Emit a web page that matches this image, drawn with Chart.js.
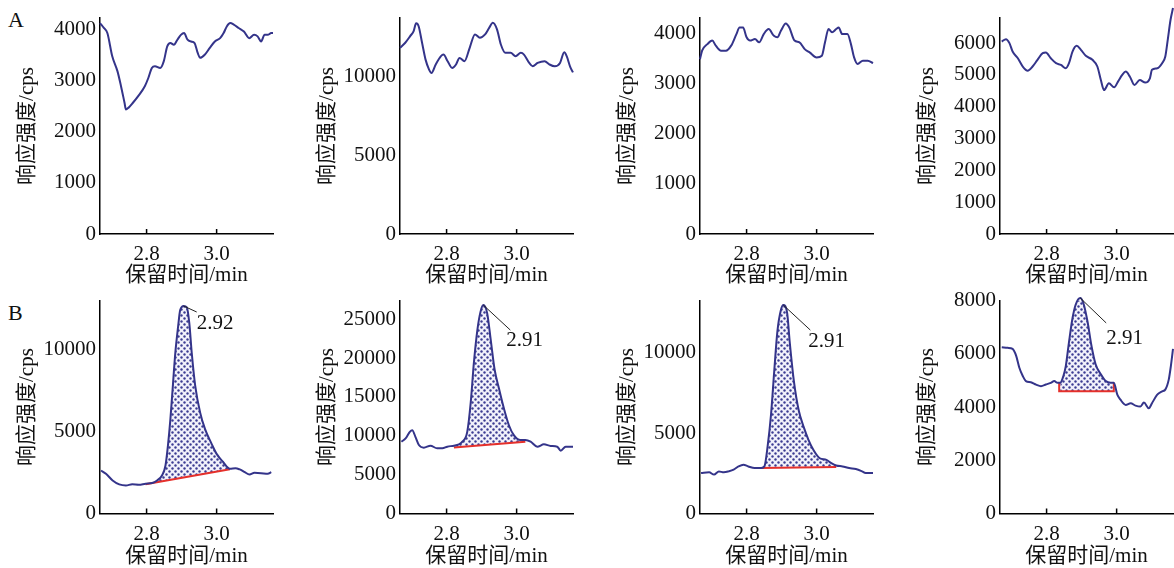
<!DOCTYPE html>
<html>
<head>
<meta charset="utf-8">
<title>色谱图</title>
<script src="https://cdn.jsdelivr.net/npm/chart.js@4.4.1/dist/chart.umd.min.js"></script>
<style>
  body { margin: 0; width: 1174px; height: 568px; overflow: hidden; background: #fff; position: relative; }
  canvas { position: absolute; }
  .tag { position: absolute; font: 22px "Liberation Serif", serif; color: #111; line-height: 1; }
</style>
</head>
<body>
<div class="tag" style="left:8px;top:9px">A</div>
<div class="tag" style="left:8px;top:302px">B</div>
<canvas id="a1" width="300" height="284" style="left:0;top:0"></canvas>
<canvas id="a2" width="300" height="284" style="left:300px;top:0"></canvas>
<canvas id="a3" width="300" height="284" style="left:600px;top:0"></canvas>
<canvas id="a4" width="300" height="284" style="left:900px;top:0"></canvas>
<canvas id="b1" width="300" height="284" style="left:0;top:284px"></canvas>
<canvas id="b2" width="300" height="284" style="left:300px;top:284px"></canvas>
<canvas id="b3" width="300" height="284" style="left:600px;top:284px"></canvas>
<canvas id="b4" width="300" height="284" style="left:900px;top:284px"></canvas>
<script>
// x axis (retention time, min)
const xTicks = [2.8, 3.0];
const xMin = 2.667, xMax = 3.161;

// row A: blank samples, [time, cps]
const a1 = [[2.667,4130],[2.678,4035],[2.688,3935],[2.702,3480],[2.717,3185],[2.727,2895],[2.737,2570],[2.741,2440],[2.748,2470],[2.761,2570],[2.776,2700],[2.795,2895],[2.805,3055],[2.815,3250],[2.824,3285],[2.839,3250],[2.849,3380],[2.859,3675],[2.868,3740],[2.878,3705],[2.888,3805],[2.898,3900],[2.907,3935],[2.917,3805],[2.927,3770],[2.937,3740],[2.946,3545],[2.953,3450],[2.966,3510],[2.980,3640],[2.995,3770],[3.010,3835],[3.020,3935],[3.029,4065],[3.039,4130],[3.049,4100],[3.063,4035],[3.078,3965],[3.093,3835],[3.107,3900],[3.117,3870],[3.127,3770],[3.137,3900],[3.146,3900],[3.156,3935],[3.161,3935]];
const a2 = [[2.667,11810],[2.682,12130],[2.696,12550],[2.706,12870],[2.713,13360],[2.720,13190],[2.730,12130],[2.740,11060],[2.750,10430],[2.757,10210],[2.769,10750],[2.784,11280],[2.791,11380],[2.803,10960],[2.816,10530],[2.827,10750],[2.837,11170],[2.851,10960],[2.866,11810],[2.881,12660],[2.895,12450],[2.910,12660],[2.922,13090],[2.932,13400],[2.944,12980],[2.955,12020],[2.968,11490],[2.983,11490],[2.997,11280],[3.012,11490],[3.021,11380],[3.036,10850],[3.046,10640],[3.060,10850],[3.080,10960],[3.094,10750],[3.109,10640],[3.124,10850],[3.136,11530],[3.143,11280],[3.153,10600],[3.161,10250]];
const a3 = [[2.667,3480],[2.673,3650],[2.688,3780],[2.702,3850],[2.712,3750],[2.727,3650],[2.741,3650],[2.756,3750],[2.771,3980],[2.780,4110],[2.790,4110],[2.800,3915],[2.810,3850],[2.824,3880],[2.836,3815],[2.849,3980],[2.863,4080],[2.878,3945],[2.888,3915],[2.898,4045],[2.912,4190],[2.922,4110],[2.937,3850],[2.951,3815],[2.966,3680],[2.980,3615],[3.000,3515],[3.015,3550],[3.024,3815],[3.034,4080],[3.044,4015],[3.056,4080],[3.063,4110],[3.073,3980],[3.088,3980],[3.098,3780],[3.107,3515],[3.117,3385],[3.132,3450],[3.146,3450],[3.161,3400]];
const a4 = [[2.672,6050],[2.684,6125],[2.694,6000],[2.703,5735],[2.718,5525],[2.732,5265],[2.746,5135],[2.760,5265],[2.774,5475],[2.789,5685],[2.798,5705],[2.812,5525],[2.827,5370],[2.841,5315],[2.855,5210],[2.864,5370],[2.874,5735],[2.886,5915],[2.898,5790],[2.912,5600],[2.931,5475],[2.945,5265],[2.955,4840],[2.964,4525],[2.978,4735],[2.993,4610],[3.004,4790],[3.016,5000],[3.026,5105],[3.038,4945],[3.051,4685],[3.066,4840],[3.082,4760],[3.095,4895],[3.101,5160],[3.116,5210],[3.130,5370],[3.139,5580],[3.146,6105],[3.154,6735],[3.161,7105]];

// row B: spiked samples
const b1 = [[2.670,2625],[2.684,2425],[2.703,2020],[2.722,1780],[2.741,1715],[2.759,1780],[2.778,1760],[2.797,1820],[2.816,1860],[2.830,2020],[2.844,2325],[2.854,2930],[2.861,4140],[2.868,5760],[2.875,7780],[2.882,9800],[2.890,11410],[2.896,12420],[2.906,12670],[2.915,12590],[2.922,11620],[2.929,9800],[2.939,7780],[2.953,6160],[2.967,5150],[2.986,4240],[3.000,3640],[3.019,3130],[3.038,2730],[3.054,2770],[3.066,2690],[3.080,2525],[3.094,2385],[3.108,2485],[3.127,2465],[3.146,2425],[3.156,2525]];
const b2 = [[2.671,9240],[2.683,9660],[2.695,10510],[2.702,10720],[2.711,9870],[2.721,8810],[2.735,8475],[2.754,8730],[2.773,8390],[2.788,8390],[2.802,8600],[2.821,8730],[2.835,8900],[2.845,9240],[2.859,10510],[2.869,14320],[2.878,19410],[2.888,23640],[2.897,25980],[2.905,26820],[2.916,25760],[2.926,22370],[2.937,18560],[2.950,16020],[2.964,13480],[2.978,11360],[2.992,10090],[3.011,9450],[3.025,9450],[3.040,9240],[3.059,8600],[3.078,8900],[3.097,8690],[3.116,8600],[3.126,8090],[3.140,8600],[3.161,8600]];
const b3 = [[2.670,2520],[2.693,2560],[2.707,2420],[2.721,2620],[2.735,2560],[2.749,2620],[2.763,2725],[2.777,2930],[2.791,3035],[2.805,2930],[2.823,2830],[2.842,2830],[2.851,2930],[2.860,4160],[2.870,6210],[2.879,8870],[2.888,11330],[2.898,12660],[2.905,12970],[2.916,12460],[2.923,10720],[2.935,8260],[2.949,6410],[2.963,5390],[2.977,4570],[2.991,3955],[3.009,3440],[3.028,3340],[3.042,3135],[3.056,2990],[3.074,2930],[3.093,2830],[3.112,2765],[3.130,2620],[3.140,2520],[3.161,2520]];
const b4 = [[2.672,6250],[2.689,6225],[2.703,6185],[2.713,5930],[2.722,5485],[2.732,5165],[2.741,4975],[2.755,4935],[2.770,4845],[2.784,4785],[2.798,4845],[2.812,4910],[2.822,4975],[2.831,4910],[2.839,4910],[2.848,5165],[2.855,5550],[2.864,6440],[2.874,7335],[2.883,7845],[2.896,8100],[2.905,7910],[2.917,7205],[2.928,6315],[2.940,5610],[2.955,5230],[2.969,4975],[2.983,4910],[2.992,4910],[3.002,4465],[3.011,4275],[3.026,4080],[3.040,4145],[3.054,4055],[3.068,4020],[3.078,4170],[3.092,3955],[3.101,4145],[3.116,4465],[3.130,4590],[3.139,4655],[3.149,5040],[3.155,5550],[3.161,6185]];

// integration baselines (red)
const baseB1 = [[2.797,1780],[3.038,2700]];
const baseB2 = [[2.821,8500],[3.025,9240]];
const baseB3 = [[2.842,2830],[3.056,2890]];
const baseB4 = [[2.836,4910],[2.836,4590],[2.992,4590],[2.992,4910]];
const peakLabels = ['2.92', '2.91', '2.91', '2.91'];

// y ticks and axis tops
const yTicksA1 = [0, 1000, 2000, 3000, 4000];
const yTicksA2 = [0, 5000, 10000];
const yTicksA3 = [0, 1000, 2000, 3000, 4000];
const yTicksA4 = [0, 1000, 2000, 3000, 4000, 5000, 6000];
const yTicksB1 = [0, 5000, 10000];
const yTicksB2 = [0, 5000, 10000, 15000, 20000, 25000];
const yTicksB3 = [0, 5000, 10000];
const yTicksB4 = [0, 2000, 4000, 6000, 8000];
const yMaxA = [4230, 13700, 4300, 6790];
const yMaxB = [13000, 27400, 13250, 8000];

const NAVY = '#34348a';
const RED = '#e5302b';
const TICK_FONT = { family: '"Liberation Serif", serif', size: 21 };
const TITLE_FONT = { family: '"Liberation Serif", "Noto Sans CJK SC", serif', size: 21, lineHeight: 1 };

// leader line / label offsets from the apex (px)
const leadB = [[13, 6], [27, 25], [27, 25], [26, 25]];
const textB = [[13, 17], [23, 35], [25, 36], [26, 41]];

function dotPattern() {
  const c = document.createElement('canvas');
  c.width = 6; c.height = 6;
  const g = c.getContext('2d');
  g.fillStyle = '#f1f1fa';
  g.fillRect(0, 0, 6, 6);
  g.fillStyle = '#3c3c92';
  [[1.5, 1.5], [4.5, 4.5]].forEach(([x, y]) => { g.beginPath(); g.arc(x, y, 1.2, 0, Math.PI * 2); g.fill(); });
  return g.createPattern(c, 'repeat');
}
const dots = dotPattern();

const decor = {
  id: 'decor',
  afterDraw(chart, args, opts) {
    const { ctx, chartArea, scales: { x, y } } = chart;
    ctx.save();
    ctx.strokeStyle = '#000';
    ctx.lineWidth = 1.5;
    // inward x tick marks
    xTicks.forEach(v => {
      const px = x.getPixelForValue(v);
      ctx.beginPath();
      ctx.moveTo(px, chartArea.bottom);
      ctx.lineTo(px, chartArea.bottom - 5);
      ctx.stroke();
    });
    if (opts.label) {
      const pts = chart.data.datasets[0].data;
      const apex = pts.reduce((m, p) => p[1] > m[1] ? p : m);
      const ax = x.getPixelForValue(apex[0]), ay = y.getPixelForValue(apex[1]);
      ctx.lineWidth = 1;
      ctx.strokeStyle = '#222';
      ctx.beginPath();
      ctx.moveTo(ax, ay);
      ctx.lineTo(ax + opts.lead[0], ay + opts.lead[1]);
      ctx.stroke();
      ctx.fillStyle = '#111';
      ctx.font = '21px "Liberation Serif", serif';
      ctx.textBaseline = 'middle';
      ctx.fillText(opts.label, ax + opts.text[0], ay + opts.text[1]);
    }
    ctx.restore();
  }
};

const panels = [
  { id: 'a1', trace: a1, yTicks: yTicksA1, yMax: yMaxA[0], row: 0 },
  { id: 'a2', trace: a2, yTicks: yTicksA2, yMax: yMaxA[1], row: 0 },
  { id: 'a3', trace: a3, yTicks: yTicksA3, yMax: yMaxA[2], row: 0 },
  { id: 'a4', trace: a4, yTicks: yTicksA4, yMax: yMaxA[3], row: 0 },
  { id: 'b1', trace: b1, yTicks: yTicksB1, yMax: yMaxB[0], row: 1, base: baseB1, k: 0 },
  { id: 'b2', trace: b2, yTicks: yTicksB2, yMax: yMaxB[1], row: 1, base: baseB2, k: 1 },
  { id: 'b3', trace: b3, yTicks: yTicksB3, yMax: yMaxB[2], row: 1, base: baseB3, k: 2 },
  { id: 'b4', trace: b4, yTicks: yTicksB4, yMax: yMaxB[3], row: 1, base: baseB4, k: 3, flat: true }
];

panels.forEach(p => {
  const datasets = [{
    data: p.trace,
    borderColor: NAVY,
    borderWidth: 2,
    cubicInterpolationMode: 'monotone',
    clip: false,
    fill: false
  }];
  if (p.base) {
    const x0 = Math.min(...p.base.map(d => d[0]));
    const x1 = Math.max(...p.base.map(d => d[0]));
    datasets.push({
      data: p.base,
      borderColor: RED,
      borderWidth: 2,
      tension: 0,
      clip: false,
      fill: false
    });
    datasets.push({
      data: p.trace.filter(d => d[0] >= x0 && d[0] <= x1),
      borderWidth: 0,
      borderColor: 'transparent',
      backgroundColor: dots,
      cubicInterpolationMode: 'monotone',
      clip: false,
      fill: p.flat ? { value: Math.min(...p.base.map(d => d[1])) } : 1
    });
  }

  new Chart(document.getElementById(p.id), {
    type: 'line',
    data: { datasets },
    plugins: [decor],
    options: {
      responsive: false,
      animation: false,
      devicePixelRatio: 1,
      layout: { padding: { top: p.row ? 14 : 18, right: 27, left: 0, bottom: 0 } },
      elements: { point: { radius: 0 } },
      plugins: {
        legend: { display: false },
        tooltip: { enabled: false },
        decor: p.base ? { label: peakLabels[p.k], lead: leadB[p.k], text: textB[p.k] } : {}
      },
      scales: {
        x: {
          type: 'linear',
          min: xMin,
          max: xMax,
          afterBuildTicks: s => { s.ticks = xTicks.map(v => ({ value: v })); },
          afterFit: s => { s.height = p.row ? 54.5 : 50; },
          grid: { display: false, drawTicks: false },
          border: { display: true, color: '#000', width: 1.5 },
          ticks: { color: '#111', font: TICK_FONT, padding: 8, maxRotation: 0, callback: v => v.toFixed(1) },
          title: { display: true, text: '保留时间/min', color: '#111', font: TITLE_FONT, padding: { top: 0, bottom: p.row ? 1 : -2 } }
        },
        y: {
          min: 0,
          max: p.yMax,
          afterBuildTicks: s => { s.ticks = p.yTicks.map(v => ({ value: v })); },
          afterFit: s => { s.width = 100; },
          grid: { display: false, drawTicks: false },
          border: { display: true, color: '#000', width: 1.5 },
          ticks: { color: '#111', font: TICK_FONT, padding: 4, callback: v => String(v) },
          title: { display: true, text: '响应强度/cps', color: '#111', font: TITLE_FONT, padding: { top: 17, bottom: 0 } }
        }
      }
    }
  });
});
</script>
</body>
</html>
